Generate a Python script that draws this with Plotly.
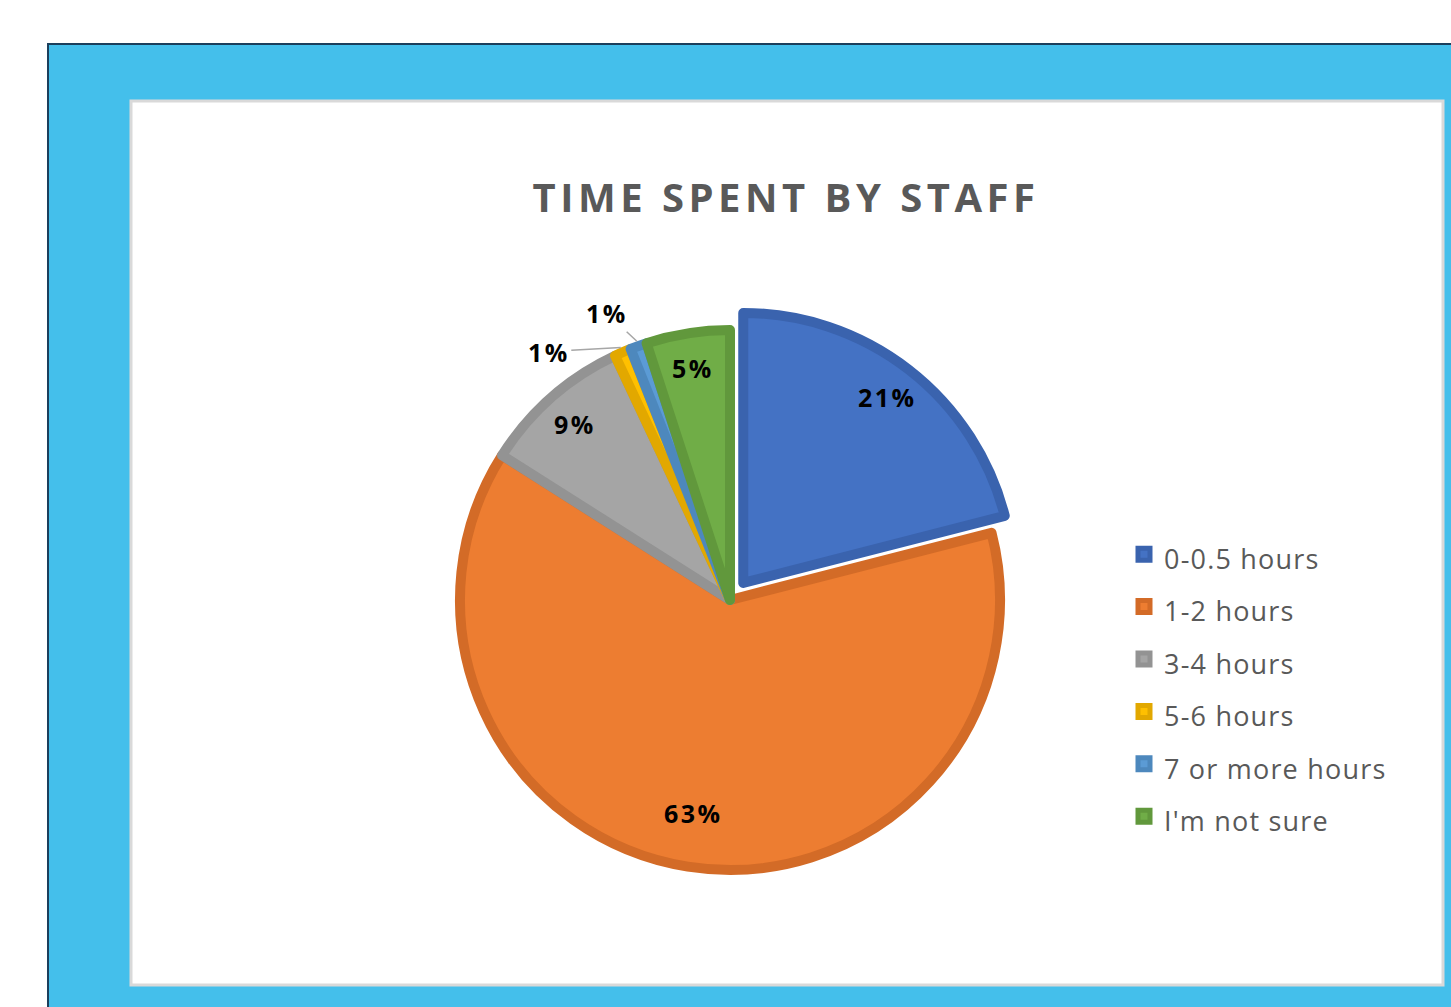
import math
import plotly.graph_objects as go

categories = ["0-0.5 hours", "1-2 hours", "3-4 hours", "5-6 hours", "7 or more hours", "I'm not sure"]
values = [21, 63, 9, 1, 1, 5]

fill_colors = ["#4472C4", "#ED7D31", "#A5A5A5", "#FFC000", "#5B9BD5", "#70AD47"]
edge_colors = ["#3A63AE", "#D36B27", "#939393", "#E2A800", "#4D88BD", "#61983C"]
pulls = [0.08, 0, 0, 0, 0, 0]
# label placement: None = inside label, else (dx, dy) offset of the outside label from slice edge
outside_offsets = [None, None, None, (-72, 4), (-30, -28), None]

W, H = 1451, 1007

def px(x):
    return x / W

def py(y):
    return 1 - y / H

legend_labels = ['<span style="font-size:27px;letter-spacing:1.2px">%s</span>' % c for c in categories]

cx, cy, r = 730, 600, 270
edge_w = 10
max_pull = max(pulls)
half = r * (1 + max_pull)

fig = go.Figure(
    go.Pie(
        labels=legend_labels,
        values=values,
        sort=False,
        direction="clockwise",
        rotation=0,
        pull=pulls,
        marker=dict(colors=fill_colors, line=dict(color=edge_colors, width=edge_w)),
        textinfo="none",
        domain=dict(x=[px(cx - half), px(cx + half)], y=[py(cy + half), py(cy - half)]),
        hoverinfo="label+percent",
    )
)

# data labels computed from the values (mid-angle of each slice)
total = sum(values)
annotations = []
cum = 0
for i, v in enumerate(values):
    mid = (cum + v / 2) / total * 2 * math.pi
    cum += v
    pct = "%d%%" % round(100 * v / total)
    txt = '<span style="letter-spacing:2.5px">%s</span>' % pct
    off = r * pulls[i]
    if outside_offsets[i] is None:
        rr = 0.855 * (r + edge_w / 2) + off
        x = cx + rr * math.sin(mid)
        y = cy - rr * math.cos(mid)
        annotations.append(dict(x=px(x), y=py(y), xref="paper", yref="paper", text=txt,
                                showarrow=False,
                                font=dict(family="Open Sans", size=25, color="#000000", weight="bold")))
    else:
        rr = r + edge_w / 2 + off
        x = cx + rr * math.sin(mid)
        y = cy - rr * math.cos(mid)
        ax, ay = outside_offsets[i]
        annotations.append(dict(x=px(x), y=py(y), xref="paper", yref="paper", text=txt,
                                showarrow=True, arrowhead=0, arrowwidth=1.5, arrowcolor="#A6A6A6",
                                standoff=0, ax=ax, ay=ay,
                                font=dict(family="Open Sans", size=25, color="#000000", weight="bold")))

fig.update_layout(
    width=W,
    height=H,
    margin=dict(l=0, r=0, t=0, b=0),
    paper_bgcolor="#FFFFFF",
    plot_bgcolor="#FFFFFF",
    font=dict(family="Open Sans", color="#595959"),
    title=dict(
        text='<span style="letter-spacing:4.5px">TIME SPENT BY STAFF</span>',
        x=px(786),
        y=py(198),
        xanchor="center",
        yanchor="middle",
        font=dict(family="Open Sans", size=40, color="#595959", weight="bold"),
    ),
    showlegend=True,
    legend=dict(
        x=px(1124),
        y=py(523),
        xanchor="left",
        yanchor="top",
        font=dict(family="Open Sans", size=38, color="#595959"),
        bgcolor="rgba(0,0,0,0)",
        traceorder="normal",
    ),
    annotations=annotations,
    shapes=[
        dict(type="rect", xref="paper", yref="paper", x0=px(48), y0=py(44), x1=1.02, y1=-0.02,
             fillcolor="#44BFEB", line=dict(color="#1B3F5C", width=2), layer="below"),
        dict(type="rect", xref="paper", yref="paper", x0=px(131), y0=py(101), x1=px(1443), y1=py(985),
             fillcolor="#FFFFFF", line=dict(color="#D9D9D9", width=3), layer="below"),
    ],
)

fig.write_html("out.html", config={"displayModeBar": False},
               post_script="document.body.style.margin='0';document.body.style.overflow='hidden';")
